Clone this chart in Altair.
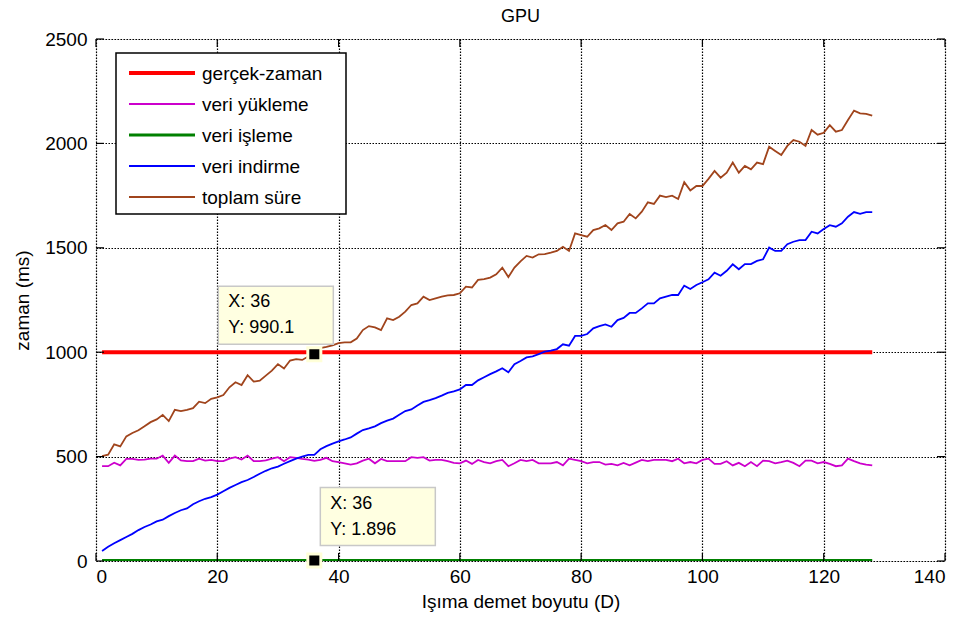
import altair as alt
import pandas as pd

FONT = "Liberation Sans"

# Beam size (D) on the x axis
beam_size = list(range(1, 129))

# veri yükleme (upload) time, ms
upload_ms = [
    454, 454, 471, 458, 489, 489, 484, 486, 490, 490,
    505, 470, 505, 482, 478, 478, 490, 481, 484, 478,
    478, 490, 497, 486, 505, 478, 478, 482, 490, 497,
    478, 497, 494, 489, 486, 480, 484, 494, 478, 473,
    468, 462, 468, 481, 490, 468, 489, 478, 478, 478,
    478, 497, 494, 497, 481, 484, 484, 478, 470, 468,
    481, 465, 484, 474, 468, 478, 484, 454, 468, 484,
    478, 484, 468, 468, 468, 474, 458, 490, 484, 478,
    468, 474, 474, 462, 465, 458, 470, 458, 471, 484,
    478, 484, 484, 484, 478, 490, 468, 474, 468, 484,
    490, 465, 465, 478, 458, 470, 454, 474, 454, 481,
    478, 468, 474, 481, 470, 454, 481, 481, 468, 474,
    465, 454, 458, 490, 478, 468, 462, 458,
]

# veri indirme (download) time, ms
download_ms = [
    48, 68, 85, 100, 115, 130, 148, 163, 175, 190,
    198, 215, 230, 243, 252, 272, 286, 298, 306, 318,
    334, 350, 364, 378, 388, 402, 418, 432, 444, 452,
    466, 478, 490, 500, 508, 508, 535, 550, 562, 573,
    582, 592, 610, 627, 635, 645, 660, 672, 682, 700,
    718, 726, 745, 762, 770, 780, 792, 805, 812, 822,
    843, 843, 865, 880, 895, 908, 923, 904, 942, 958,
    975, 980, 991, 1003, 1007, 1015, 1038, 1031, 1078, 1078,
    1087, 1114, 1125, 1133, 1122, 1154, 1164, 1188, 1188, 1210,
    1234, 1234, 1258, 1266, 1274, 1274, 1319, 1303, 1322, 1335,
    1349, 1381, 1366, 1390, 1421, 1397, 1422, 1422, 1437, 1445,
    1501, 1485, 1485, 1517, 1529, 1537, 1537, 1577, 1569, 1590,
    1608, 1601, 1617, 1649, 1671, 1663, 1671, 1671,
]

# toplam süre (total) time, ms
total_ms = [
    502, 509, 559, 549, 597, 613, 626, 645, 665, 678,
    700, 670, 724, 718, 724, 732, 763, 756, 777, 784,
    795, 832, 856, 843, 890, 859, 864, 888, 912, 943,
    922, 960, 967, 963, 979, 990.1, 1020, 1025, 1033, 1043,
    1047, 1047, 1065, 1106, 1125, 1119, 1106, 1162, 1154, 1170,
    1194, 1226, 1234, 1266, 1250, 1258, 1266, 1272, 1274, 1282,
    1314, 1310, 1346, 1350, 1357, 1373, 1405, 1360, 1405, 1435,
    1461, 1453, 1469, 1470, 1477, 1485, 1505, 1485, 1569, 1561,
    1553, 1585, 1593, 1609, 1585, 1617, 1625, 1662, 1641, 1673,
    1718, 1710, 1750, 1743, 1750, 1734, 1814, 1775, 1796, 1796,
    1830, 1868, 1836, 1860, 1908, 1860, 1892, 1876, 1908, 1901,
    1984, 1964, 1944, 1988, 2016, 2008, 1988, 2064, 2042, 2051,
    2087, 2056, 2064, 2112, 2157, 2144, 2141, 2133,
]

# Flat series, given by their end points
realtime_x = [1, 128]
realtime_ms = [1000, 1000]          # gerçek-zaman limit
processing_x = [1, 128]
processing_ms = [1.896, 1.896]      # veri işleme

series_names = ["gerçek-zaman", "veri yükleme", "veri işleme", "veri indirme", "toplam süre"]
series_colors = ["#FF0000", "#CC00CC", "#008000", "#0000FF", "#A0441C"]
series_widths = [4, 1.8, 3, 1.8, 1.8]

# Data tips
tip_x = [36, 36]
tip_y = [990.1, 1.896]

x_ticks = [0, 20, 40, 60, 80, 100, 120, 140]
y_ticks = [0, 500, 1000, 1500, 2000, 2500]

W, H = 849, 522

x_scale = alt.Scale(domain=[0, 140], nice=False, zero=False)
y_scale = alt.Scale(domain=[0, 2500], nice=False)

GRID = dict(grid=True, gridColor="black", gridDash=[1.5, 1.5], gridWidth=1.2, gridOpacity=1)

x_axis = alt.Axis(
    values=x_ticks, **GRID,
    ticks=False, domain=False, labelFontSize=19, labelFont=FONT, labelColor="black",
    labelPadding=6, title="Işıma demet boyutu (D)", titleFont=FONT, titleFontSize=19,
    titleFontWeight="normal", titleColor="black", titlePadding=6,
)
y_axis = alt.Axis(
    values=y_ticks, format="d", **GRID,
    ticks=False, domain=False, labelFontSize=19, labelFont=FONT, labelColor="black",
    labelPadding=9, title="zaman (ms)", titleFont=FONT, titleFontSize=19,
    titleFontWeight="normal", titleColor="black", titlePadding=12,
)

# One line layer per series, drawn in legend order
series_data = [
    (realtime_x, realtime_ms),
    (beam_size, upload_ms),
    (processing_x, processing_ms),
    (beam_size, download_ms),
    (beam_size, total_ms),
]
line_layers = []
for i, ((xs, ys), col, sw) in enumerate(zip(series_data, series_colors, series_widths)):
    df = pd.DataFrame({"D": xs, "ms": ys})
    if i == 0:
        enc_x = alt.X("D:Q", scale=x_scale, axis=x_axis)
        enc_y = alt.Y("ms:Q", scale=y_scale, axis=y_axis)
    else:
        enc_x = alt.X("D:Q", scale=x_scale)
        enc_y = alt.Y("ms:Q", scale=y_scale)
    line_layers.append(
        alt.Chart(df).mark_line(color=col, strokeWidth=sw, clip=True).encode(x=enc_x, y=enc_y))

# Inward tick marks on all four sides of the box
TL = 8
xt = pd.DataFrame({"D": x_ticks})
yt = pd.DataFrame({"ms": y_ticks})
tick_layers = [
    alt.Chart(xt).mark_rule(color="black", strokeWidth=1.2).encode(
        x=alt.X("D:Q", scale=x_scale), y=alt.value(H), y2=alt.value(H - TL)),
    alt.Chart(xt).mark_rule(color="black", strokeWidth=1.2).encode(
        x=alt.X("D:Q", scale=x_scale), y=alt.value(0), y2=alt.value(TL)),
    alt.Chart(yt).mark_rule(color="black", strokeWidth=1.2).encode(
        y=alt.Y("ms:Q", scale=y_scale), x=alt.value(0), x2=alt.value(TL)),
    alt.Chart(yt).mark_rule(color="black", strokeWidth=1.2).encode(
        y=alt.Y("ms:Q", scale=y_scale), x=alt.value(W), x2=alt.value(W - TL)),
]

# Legend box
one = pd.DataFrame({"k": [0]})
legend_layers = [
    alt.Chart(one).mark_rect(fill="white", stroke="black", strokeWidth=1.5).encode(
        x=alt.value(20), x2=alt.value(250), y=alt.value(14), y2=alt.value(175)),
]
for i, (name, col, sw) in enumerate(zip(series_names, series_colors, series_widths)):
    ry = 34 + i * 31
    legend_layers.append(
        alt.Chart(one).mark_rule(color=col, strokeWidth=sw).encode(
            x=alt.value(33), x2=alt.value(99), y=alt.value(ry)))
    legend_layers.append(
        alt.Chart(one).mark_text(align="left", baseline="middle", font=FONT, fontSize=19, color="black").encode(
            x=alt.value(106), y=alt.value(ry + 1), text=alt.value(name)))

# Data tips: yellow boxes anchored to the marked points
tips_df = pd.DataFrame({"D": tip_x, "ms": tip_y})
tip_layers = []
box_offsets = [(-96, 19, -68, -10), (6, 121, -73, -15)]
for idx, (x0, x1, y0, y1) in enumerate(box_offsets):
    base = alt.Chart(tips_df.iloc[[idx]]).transform_calculate(
        lx="'X: ' + datum.D", ly="'Y: ' + datum.ms")
    tip_layers.append(base.mark_rect(
        fill="#FFFFE1", stroke="#C8C8C8", strokeWidth=1.5,
        xOffset=x0, x2Offset=x1, yOffset=y0, y2Offset=y1).encode(
        x=alt.X("D:Q", scale=x_scale), x2="D:Q",
        y=alt.Y("ms:Q", scale=y_scale), y2="ms:Q"))
    tip_layers.append(base.mark_text(
        align="left", baseline="middle", font=FONT, fontSize=18, color="black",
        dx=x0 + 10, dy=y0 + 16).encode(
        x=alt.X("D:Q", scale=x_scale), y=alt.Y("ms:Q", scale=y_scale), text="lx:N"))
    tip_layers.append(base.mark_text(
        align="left", baseline="middle", font=FONT, fontSize=18, color="black",
        dx=x0 + 10, dy=y0 + 42).encode(
        x=alt.X("D:Q", scale=x_scale), y=alt.Y("ms:Q", scale=y_scale), text="ly:N"))

markers = alt.Chart(tips_df).mark_square(
    size=170, fill="black", opacity=1, stroke="#FFFFD8", strokeWidth=3).encode(
    x=alt.X("D:Q", scale=x_scale), y=alt.Y("ms:Q", scale=y_scale))

chart = alt.layer(
    *line_layers, *tick_layers, *legend_layers, *tip_layers, markers,
).properties(
    width=W, height=H,
    title=alt.TitleParams("GPU", font=FONT, fontSize=18, fontWeight="normal", color="black", offset=4),
    autosize=alt.AutoSizeParams(type="none"),
    padding={"left": 96, "top": 39, "right": 17, "bottom": 62},
).configure_view(
    stroke="black", strokeWidth=1.5,
).configure_title(
    font=FONT, fontSize=18, fontWeight="normal", color="black",
).configure(background="white")

chart.save("out.html", embed_options={"renderer": "svg", "actions": False})
